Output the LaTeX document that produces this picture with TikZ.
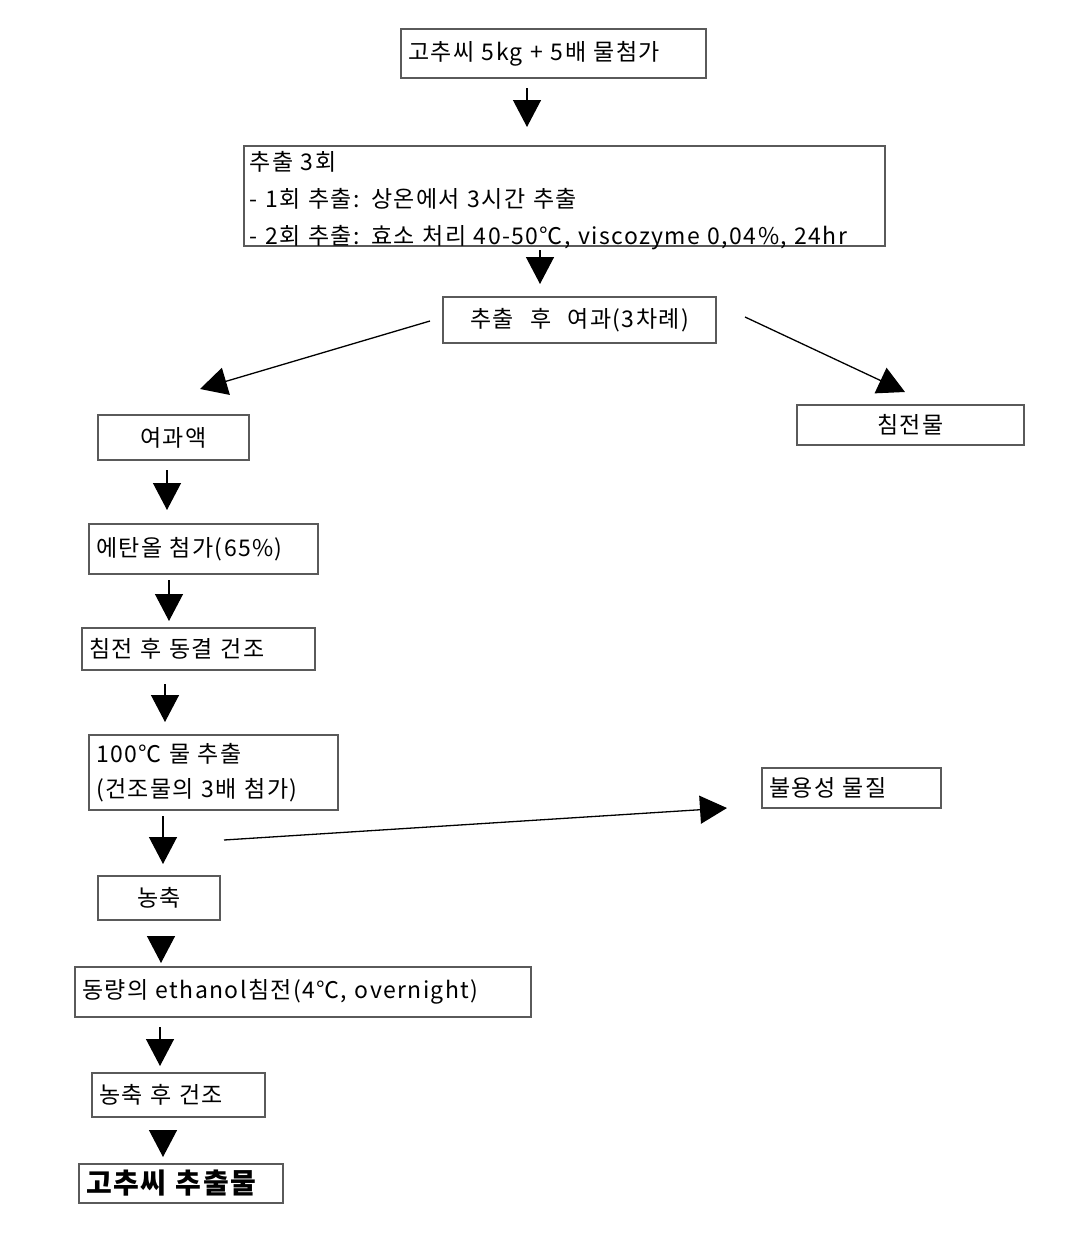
\documentclass[tikz,border=0pt]{standalone}
\usepackage{fontspec}
\setmainfont{Noto Sans CJK KR}
\newfontfamily\kr[LetterSpace=6,WordSpace=2.5]{Noto Sans CJK KR}
\usetikzlibrary{arrows.meta}
\definecolor{boxgray}{HTML}{5A5A5A}
\tikzset{
  box/.style={draw=boxgray, line width=1.3pt, inner xsep=7pt, inner ysep=0pt, fill=white,
    font=\kr\fontsize{23}{37}\selectfont},
  lt/.style={text width=#1, align=left},
  ct/.style={minimum width=#1, align=center},
  flow/.style={line width=1.3pt, -{Triangle[length=27pt,width=28pt]}},
}
\begin{document}
\begin{tikzpicture}[x=1pt,y=-1pt]
\useasboundingbox (0,0) rectangle (1070,1242);
\node[box, lt=291, minimum height=49] (n1) at (553.5,53.5) {고추씨 5kg + 5배 물첨가};
\node[box, minimum width=641, minimum height=100,
  label={[font=\kr\fontsize{23}{37}\selectfont, anchor=north west, xshift=6pt, yshift=-6pt, inner sep=0pt, text width=630, align=left]north west:추출 3회\\- 1회 추출: 상온에서 3시간 추출\\- 2회 추출: 효소 처리 40-50℃, viscozyme 0,04\%, 24hr}] (n2) at (564.5,196) {};
\node[box, ct=273, minimum height=46] (n3) at (579.5,320) {추출 후 여과(3차례)};
\node[box, ct=151, minimum height=45] (n4) at (173.5,437.5) {여과액};
\node[box, ct=227, minimum height=40] (n5) at (910.5,425) {침전물};
\node[box, lt=215, minimum height=50] (n6) at (203.5,549) {에탄올 첨가(65\%)};
\node[box, lt=219, minimum height=42] (n7) at (198.5,649) {침전 후 동결 건조};
\node[box, lt=235, minimum height=75, font=\kr\fontsize{23}{35}\selectfont] (n8) at (213.5,772.5) {100℃ 물 추출\\(건조물의 3배 첨가)};
\node[box, lt=165, minimum height=40] (n9) at (851.5,788) {불용성 물질};
\node[box, ct=122, minimum height=44] (n10) at (159,898) {농축};
\node[box, lt=442, minimum height=50] (n11) at (303,992) {동량의 ethanol침전(4℃, overnight)};
\node[box, lt=159, minimum height=44] (n12) at (178.5,1095) {농축 후 건조};
\node[box, lt=190, minimum height=39, font=\kr\bfseries\fontsize{28}{30}\selectfont] (n13) at (181,1183.5) {고추씨 추출물};
% connector end points
\coordinate (a1s) at (527,88);   \coordinate (a1e) at (527,127);
\coordinate (a2s) at (540,250);  \coordinate (a2e) at (540,284);
\coordinate (a3s) at (430,321);  \coordinate (a3e) at (200,389);
\coordinate (a4s) at (745,317);  \coordinate (a4e) at (905,392);
\coordinate (a5s) at (167,470);  \coordinate (a5e) at (167,510);
\coordinate (a6s) at (169,580);  \coordinate (a6e) at (169,621);
\coordinate (a7s) at (165,684);  \coordinate (a7e) at (165,722);
\coordinate (a8s) at (163,816);  \coordinate (a8e) at (163,864);
\coordinate (a9s) at (224,840);  \coordinate (a9e) at (727,808);
\coordinate (a10s) at (161,936); \coordinate (a10e) at (161,963);
\coordinate (a11s) at (160,1027);\coordinate (a11e) at (160,1066);
\coordinate (a12s) at (163,1130);\coordinate (a12e) at (163,1157);
\foreach \i in {1,...,12} {\draw[flow] (a\i s) -- (a\i e);}
\end{tikzpicture}
\end{document}
